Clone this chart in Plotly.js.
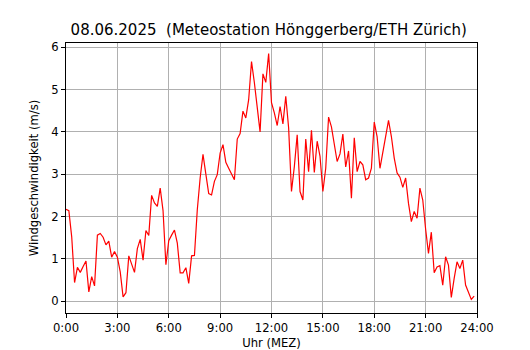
<!DOCTYPE html>
<html>
<head>
<meta charset="utf-8">
<script src="https://cdn.plot.ly/plotly-3.0.1.min.js"></script>
<style>html,body{margin:0;padding:0;background:#fff;}#chart{width:530px;height:350px;}</style>
</head>
<body>
<div id="chart"></div>
<script>
// 10-minute wind speed values (m/s), 00:00 ... 23:50
const windSpeed = [
  2.17, 2.14, 1.52, 0.44, 0.80, 0.68, 0.82, 0.95, 0.22, 0.58, 0.36, 1.56,
  1.60, 1.51, 1.33, 1.42, 1.04, 1.17, 1.04, 0.69, 0.10, 0.20, 1.07, 0.85,
  0.68, 1.24, 1.46, 0.97, 1.67, 1.55, 2.50, 2.32, 2.24, 2.67, 2.14, 0.86,
  1.43, 1.56, 1.68, 1.37, 0.67, 0.67, 0.79, 0.42, 1.07, 1.08, 2.16, 2.91,
  3.47, 3.00, 2.54, 2.51, 2.83, 2.99, 3.50, 3.70, 3.28, 3.14, 2.99, 2.87,
  3.83, 3.96, 4.49, 4.33, 4.76, 5.66, 5.16, 4.57, 4.00, 5.37, 5.17, 5.85,
  4.69, 4.45, 4.15, 4.60, 4.19, 4.84, 4.09, 2.59, 3.18, 3.93, 2.59, 2.39,
  3.83, 3.06, 4.04, 3.04, 3.78, 3.42, 2.59, 3.14, 4.35, 4.12, 3.66, 3.30,
  3.48, 3.95, 3.17, 3.55, 2.43, 3.86, 3.06, 3.30, 3.22, 2.87, 2.91, 3.14,
  4.23, 3.89, 3.14, 3.54, 3.89, 4.27, 3.89, 3.38, 3.03, 2.93, 2.69, 2.91,
  2.31, 1.88, 2.12, 1.96, 2.67, 2.39, 1.70, 1.13, 1.63, 0.67, 0.81, 0.84,
  0.38, 1.05, 0.85, 0.09, 0.54, 0.93, 0.77, 0.97, 0.38, 0.22, 0.04, 0.12
];
const intervalMinutes = 10;
const tickHours = [0, 3, 6, 9, 12, 15, 18, 21, 24];
const tickLabels = ["0:00", "3:00", "6:00", "9:00", "12:00", "15:00", "18:00", "21:00", "24:00"];
const yTicks = [0, 1, 2, 3, 4, 5, 6];

const hours = windSpeed.map((_, i) => i * intervalMinutes / 60);

const font = "DejaVu Sans, sans-serif";

Plotly.newPlot("chart", [{
  x: hours,
  y: windSpeed,
  type: "scatter",
  mode: "lines",
  line: {color: "#ff0000", width: 1.2},
  hoverinfo: "skip"
}], {
  width: 530,
  height: 350,
  margin: {l: 66, r: 53, t: 43, b: 37},
  paper_bgcolor: "#ffffff",
  plot_bgcolor: "#ffffff",
  showlegend: false,
  font: {family: font, size: 11.6, color: "#000"},
  title: {
    text: "08.06.2025  (Meteostation Hönggerberg/ETH Zürich)",
    font: {family: font, size: 15, color: "#000"},
    x: 0.507, xanchor: "center",
    y: 0.915, yanchor: "middle"
  },
  xaxis: {
    range: [0, 24],
    tickvals: tickHours,
    ticktext: tickLabels,
    ticks: "outside", ticklen: 4, tickwidth: 1, tickcolor: "#000",
    showgrid: true, gridcolor: "#b0b0b0", gridwidth: 1,
    showline: true, linecolor: "#000", linewidth: 1, mirror: true,
    zeroline: false,
    tickfont: {family: font, size: 11.6, color: "#000"},
    title: {text: "Uhr (MEZ)", font: {family: font, size: 11.6, color: "#000"}, standoff: 8}
  },
  yaxis: {
    range: [-0.28, 6.1],
    tickvals: yTicks,
    ticks: "outside", ticklen: 4, tickwidth: 1, tickcolor: "#000",
    showgrid: true, gridcolor: "#b0b0b0", gridwidth: 1,
    showline: true, linecolor: "#000", linewidth: 1, mirror: true,
    zeroline: false,
    tickfont: {family: font, size: 11.6, color: "#000"},
    title: {text: "Windgeschwindigkeit (m/s)", font: {family: font, size: 11.6, color: "#000"}, standoff: 10}
  }
}, {staticPlot: true, displayModeBar: false});
</script>
</body>
</html>
